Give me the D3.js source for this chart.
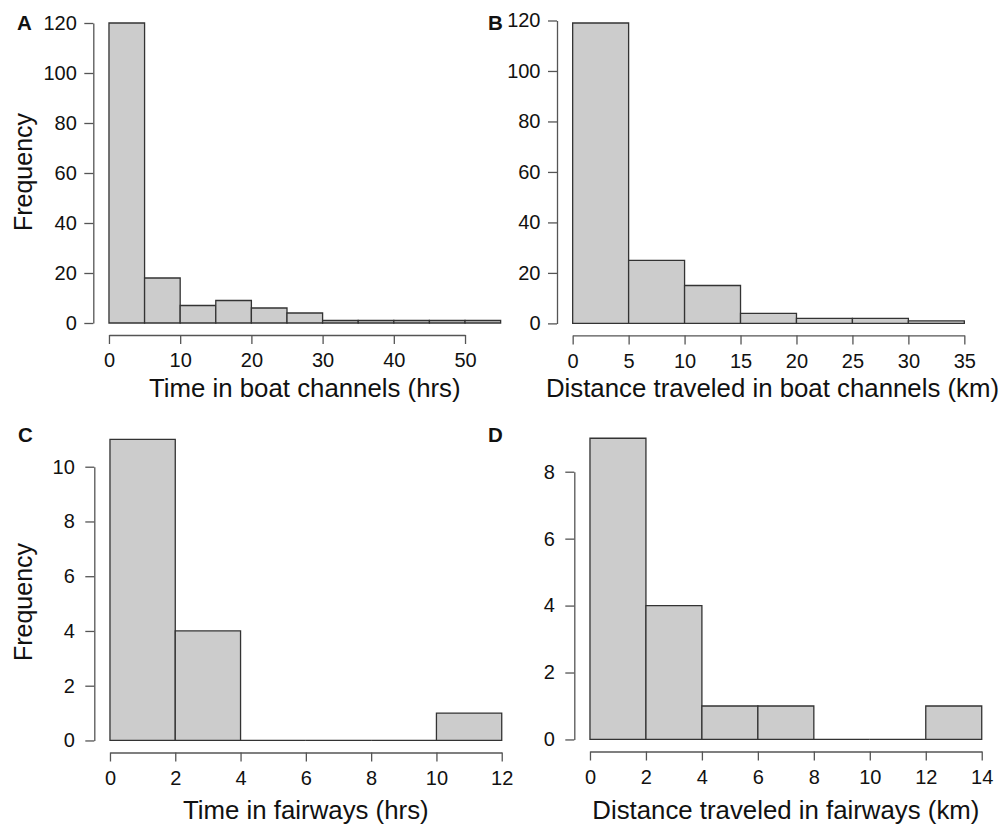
<!DOCTYPE html>
<html>
<head>
<meta charset="utf-8">
<script src="https://cdn.jsdelivr.net/npm/d3@7"></script>
<style>
  html, body { margin: 0; padding: 0; background: #fff; }
  svg { display: block; font-family: "Liberation Sans", Arial, Helvetica, sans-serif; }
</style>
</head>
<body>
<svg id="chart" width="1000" height="825"></svg>
<script>
// ---------- data ----------
const aBreaks = [0, 5, 10, 15, 20, 25, 30, 35, 40, 45, 50, 55];
const aCounts = [120, 18, 7, 9, 6, 4, 1, 1, 1, 1, 1];
const aXTicks = [0, 10, 20, 30, 40, 50];
const aYTicks = [0, 20, 40, 60, 80, 100, 120];

const bBreaks = [0, 5, 10, 15, 20, 25, 30, 35];
const bCounts = [119, 25, 15, 4, 2, 2, 1];
const bXTicks = [0, 5, 10, 15, 20, 25, 30, 35];
const bYTicks = [0, 20, 40, 60, 80, 100, 120];

const cBreaks = [0, 2, 4, 6, 8, 10, 12];
const cCounts = [11, 4, 0, 0, 0, 1];
const cXTicks = [0, 2, 4, 6, 8, 10, 12];
const cYTicks = [0, 2, 4, 6, 8, 10];

const dBreaks = [0, 2, 4, 6, 8, 10, 12, 14];
const dCounts = [9, 4, 1, 1, 0, 0, 1];
const dXTicks = [0, 2, 4, 6, 8, 10, 12, 14];
const dYTicks = [0, 2, 4, 6, 8];

const panelLetters = ["A", "B", "C", "D"];
const xTitles = [
  "Time in boat channels (hrs)",
  "Distance traveled in boat channels (km)",
  "Time in fairways (hrs)",
  "Distance traveled in fairways (km)"
];
const yTitle = "Frequency";

// ---------- layout ----------
const panels = [
  { breaks: aBreaks, counts: aCounts, xt: aXTicks, yt: aYTicks,
    left: 93.3, right: 516.3, top: 11, bottom: 335, ypad: 7.5, xTitleY: 397, xTitleShift: 0,
    letter: [17, 30], yTitleX: 32, yTitleCY: 172, showY: true },
  { breaks: bBreaks, counts: bCounts, xt: bXTicks, yt: bYTicks,
    left: 557, right: 980, top: 11, bottom: 335.4, ypad: 7.5, xTitleY: 397, xTitleShift: 4,
    letter: [488, 29.5], showY: false },
  { breaks: cBreaks, counts: cCounts, xt: cXTicks, yt: cYTicks,
    left: 94.3, right: 517.4, top: 427.3, bottom: 752.5, ypad: 10.5, xTitleY: 819, xTitleShift: 0,
    letter: [18, 441.5], yTitleX: 32, yTitleCY: 602, showY: true },
  { breaks: dBreaks, counts: dCounts, xt: dXTicks, yt: dYTicks,
    left: 574.3, right: 997.4, top: 426.2, bottom: 751.5, ypad: 10.5, xTitleY: 819, xTitleShift: 0,
    letter: [488, 442], showY: false }
];

const svg = d3.select("#chart");
const tickLen = 9;

panels.forEach((p, i) => {
  const xmin = d3.min(p.breaks), xmax = d3.max(p.breaks);
  const ymax = d3.max(p.counts);
  const xr = xmax - xmin, yr = ymax;
  const x = d3.scaleLinear().domain([xmin - 0.04 * xr, xmax + 0.04 * xr]).range([p.left, p.right]);
  const y = d3.scaleLinear().domain([-0.04 * yr, ymax + 0.04 * yr]).range([p.bottom, p.top]);

  const g = svg.append("g");

  // bars
  const bins = p.counts.map((c, k) => ({ x0: p.breaks[k], x1: p.breaks[k + 1], c }));
  g.selectAll("path.bar").data(bins).enter().append("path")
    .attr("class", "bar")
    .attr("d", d => `M${x(d.x0)},${y(0)}H${x(d.x1)}V${y(d.c)}H${x(d.x0)}Z`)
    .attr("fill", "#cccccc")
    .attr("stroke", "#333")
    .attr("stroke-width", 1.3);

  // x axis (R style: line spans first..last tick)
  const xt0 = p.xt[0], xt1 = p.xt[p.xt.length - 1];
  const xAxisScale = d3.scaleLinear().domain([xt0, xt1]).range([x(xt0), x(xt1)]);
  const gx = g.append("g").attr("transform", `translate(0,${p.bottom})`)
    .call(d3.axisBottom(xAxisScale).tickValues(p.xt).tickSize(tickLen).tickSizeOuter(0).tickPadding(9).tickFormat(d3.format("d")));
  gx.select(".domain").attr("stroke", "#555").attr("stroke-width", 1.3);
  gx.selectAll(".tick line").attr("stroke", "#555").attr("stroke-width", 1.3);
  gx.selectAll(".tick text").attr("font-size", 20).attr("fill", "#111")
    .attr("font-family", "'Liberation Sans', Arial, sans-serif");

  // y axis
  const yt0 = p.yt[0], yt1 = p.yt[p.yt.length - 1];
  const yAxisScale = d3.scaleLinear().domain([yt0, yt1]).range([y(yt0), y(yt1)]);
  const gy = g.append("g").attr("transform", `translate(${p.left},0)`)
    .call(d3.axisLeft(yAxisScale).tickValues(p.yt).tickSize(tickLen).tickSizeOuter(0).tickPadding(p.ypad).tickFormat(d3.format("d")));
  gy.select(".domain").attr("stroke", "#555").attr("stroke-width", 1.3);
  gy.selectAll(".tick line").attr("stroke", "#555").attr("stroke-width", 1.3);
  gy.selectAll(".tick text").attr("font-size", 20).attr("fill", "#111")
    .attr("font-family", "'Liberation Sans', Arial, sans-serif");

  // x title
  g.append("text")
    .attr("x", (p.left + p.right) / 2 + p.xTitleShift)
    .attr("y", p.xTitleY)
    .attr("text-anchor", "middle")
    .attr("font-size", 25.8)
    .attr("fill", "#111")
    .text(xTitles[i]);

  // y title
  if (p.showY) {
    g.append("text")
      .attr("transform", `translate(${p.yTitleX},${p.yTitleCY}) rotate(-90)`)
      .attr("text-anchor", "middle")
      .attr("font-size", 25)
      .attr("fill", "#111")
      .text(yTitle);
  }

  // panel letter
  g.append("text")
    .attr("x", p.letter[0])
    .attr("y", p.letter[1])
    .attr("font-size", 20.5)
    .attr("font-weight", "bold")
    .attr("fill", "#111")
    .text(panelLetters[i]);
});
</script>
</body>
</html>
